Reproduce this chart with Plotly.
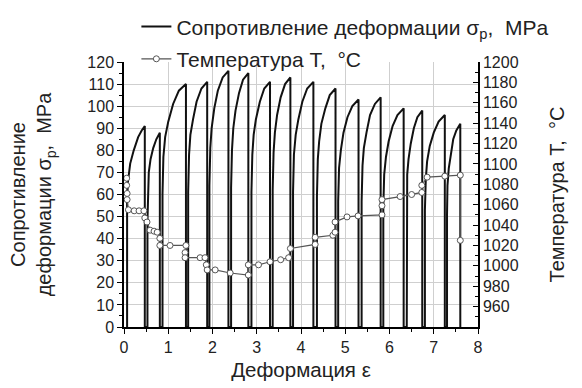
import plotly.graph_objects as go

# ---- Stress (deformation resistance) curve, 16 passes: strain / stress ----
strain = [
    0.07, 0.07, 0.09, 0.14, 0.22, 0.32, 0.40, 0.47, 0.47,
    0.53, 0.53, 0.54, 0.56, 0.60, 0.66, 0.73, 0.81, 0.81,
    0.87, 0.87, 0.89, 0.93, 1.00, 1.11, 1.24, 1.40, 1.40,
    1.45, 1.45, 1.47, 1.50, 1.56, 1.64, 1.75, 1.88, 1.88,
    1.93, 1.93, 1.95, 1.98, 2.04, 2.12, 2.23, 2.36, 2.36,
    2.42, 2.42, 2.44, 2.47, 2.52, 2.60, 2.69, 2.81, 2.81,
    2.88, 2.88, 2.90, 2.93, 2.98, 3.07, 3.17, 3.30, 3.30,
    3.36, 3.36, 3.38, 3.41, 3.46, 3.54, 3.64, 3.76, 3.76,
    3.82, 3.82, 3.84, 3.88, 3.94, 4.03, 4.14, 4.28, 4.28,
    4.36, 4.36, 4.38, 4.41, 4.46, 4.55, 4.65, 4.78, 4.78,
    4.84, 4.84, 4.86, 4.90, 4.96, 5.05, 5.16, 5.30, 5.30,
    5.37, 5.37, 5.39, 5.42, 5.48, 5.56, 5.67, 5.80, 5.80,
    5.86, 5.86, 5.88, 5.92, 5.98, 6.07, 6.18, 6.32, 6.32,
    6.39, 6.39, 6.40, 6.43, 6.48, 6.55, 6.63, 6.74, 6.74,
    6.80, 6.80, 6.82, 6.85, 6.91, 7.00, 7.11, 7.25, 7.25,
    7.30, 7.30, 7.31, 7.34, 7.38, 7.44, 7.51, 7.60, 7.60,
]
stress = [
    0, 58, 66, 74, 80, 86, 89, 91, 0,
    0, 48, 62, 70, 76, 81, 85, 88, 0,
    0, 60, 77, 86, 93, 101, 107, 110, 0,
    0, 61, 78, 87, 94, 102, 108, 111, 0,
    0, 64, 81, 90, 99, 107, 113, 116, 0,
    0, 63, 80, 90, 98, 106, 112, 115, 0,
    0, 61, 78, 87, 94, 102, 108, 111, 0,
    0, 62, 79, 88, 96, 104, 110, 113, 0,
    0, 61, 78, 87, 94, 102, 108, 111, 0,
    0, 59, 76, 84, 92, 99, 105, 108, 0,
    0, 57, 72, 80, 88, 95, 100, 103, 0,
    0, 57, 73, 81, 88, 96, 101, 104, 0,
    0, 54, 69, 77, 84, 91, 96, 99, 0,
    0, 54, 69, 76, 83, 90, 95, 98, 0,
    0, 53, 67, 75, 82, 88, 93, 96, 0,
    0, 51, 64, 72, 78, 85, 89, 92, 0,
]

# ---- Temperature trace: strain / temperature ----
temp_strain = [
    0.06, 0.06, 0.07, 0.07, 0.10, 0.23, 0.34, 0.45, 0.47, 0.52, 0.59, 0.68,
    0.75, 0.81, 0.81, 1.04, 1.40, 1.38, 1.38, 1.72, 1.83, 1.86, 1.88, 2.06,
    2.40, 2.81, 2.81, 3.04, 3.30, 3.54, 3.72, 3.76, 4.32, 4.32, 4.72, 4.77,
    4.77, 5.04, 5.29, 5.83, 5.83, 5.83, 6.24, 6.50, 6.73, 6.73, 6.85, 7.25,
    7.60, 7.60,
]
temperature = [
    1086, 1079, 1071, 1065, 1055, 1054, 1054, 1054, 1047, 1043, 1035, 1034,
    1033, 1027, 1020, 1020, 1020, 1013, 1008, 1008, 1008, 1001, 996, 996,
    993, 991, 1001, 1001, 1004, 1006, 1008, 1017, 1021, 1028, 1030, 1033,
    1043, 1048, 1049, 1050, 1059, 1065, 1068, 1070, 1072, 1079, 1087, 1088,
    1089, 1025,
]

x_ticks = [0, 1, 2, 3, 4, 5, 6, 7, 8]
y_ticks = list(range(0, 121, 10))
y2_ticks = list(range(960, 1201, 20))

FONT = "Liberation Sans, Arial, sans-serif"

fig = go.Figure()
fig.add_trace(go.Scatter(
    x=strain, y=stress, mode="lines",
    line=dict(color="#111111", width=2),
    name="Сопротивление деформации σ<sub>p</sub>,\u00a0 MPa",
    legendgroup="a",
))
fig.add_trace(go.Scatter(
    x=temp_strain, y=temperature, mode="lines+markers", yaxis="y2",
    line=dict(color="#555555", width=1.2),
    marker=dict(symbol="circle", size=6, color="white",
                line=dict(color="#555555", width=1)),
    name="Температура T,\u00a0 °C",
    legendgroup="b",
))

axis_common = dict(
    showline=True, linecolor="black", linewidth=1.5,
    tickfont=dict(family=FONT, size=16, color="#222"),
    ticklen=5, tickwidth=1, tickcolor="black",
    zeroline=False, automargin=False,
)

fig.update_layout(
    width=582, height=388,
    margin=dict(l=124, r=104, t=62, b=61, autoexpand=False),
    paper_bgcolor="white", plot_bgcolor="white",
    font=dict(family=FONT, color="#222"),
    showlegend=True,
    legend=dict(
        x=0.035, y=1.21, xanchor="left", yanchor="top",
        font=dict(family=FONT, size=21, color="#222"),
        bgcolor="rgba(0,0,0,0)", traceorder="grouped",
        tracegroupgap=2, itemwidth=30,
    ),
    xaxis=dict(
        range=[0, 8], tickvals=x_ticks, ticks="outside",
        showgrid=True, gridcolor="#cfcfcf", gridwidth=1,
        minor=dict(dtick=0.5, ticks="outside", ticklen=3, tickcolor="black", showgrid=False),
        title=dict(text="Деформация ε", font=dict(family=FONT, size=20.5, color="#222"), standoff=8),
        **axis_common,
    ),
    yaxis=dict(
        range=[0, 120], tickvals=y_ticks, ticks="outside",
        showgrid=True, gridcolor="#cfcfcf", gridwidth=1,
        minor=dict(dtick=5, ticks="outside", ticklen=3, tickcolor="black", showgrid=False),
        title=dict(text="Сопротивление<br>деформации σ<sub>p</sub>,\u00a0 MPa",
                   font=dict(family=FONT, size=20, color="#222"), standoff=30),
        **axis_common,
    ),
    yaxis2=dict(
        range=[940, 1200], tickvals=y2_ticks, ticks="inside", overlaying="y", side="right",
        showgrid=False,
        minor=dict(dtick=10, ticks="inside", ticklen=3, tickcolor="black", showgrid=False),
        title=dict(text="Температура T,\u00a0 °C",
                   font=dict(family=FONT, size=20, color="#222"), standoff=32),
        **axis_common,
    ),
)

fig.write_html("out.html")
